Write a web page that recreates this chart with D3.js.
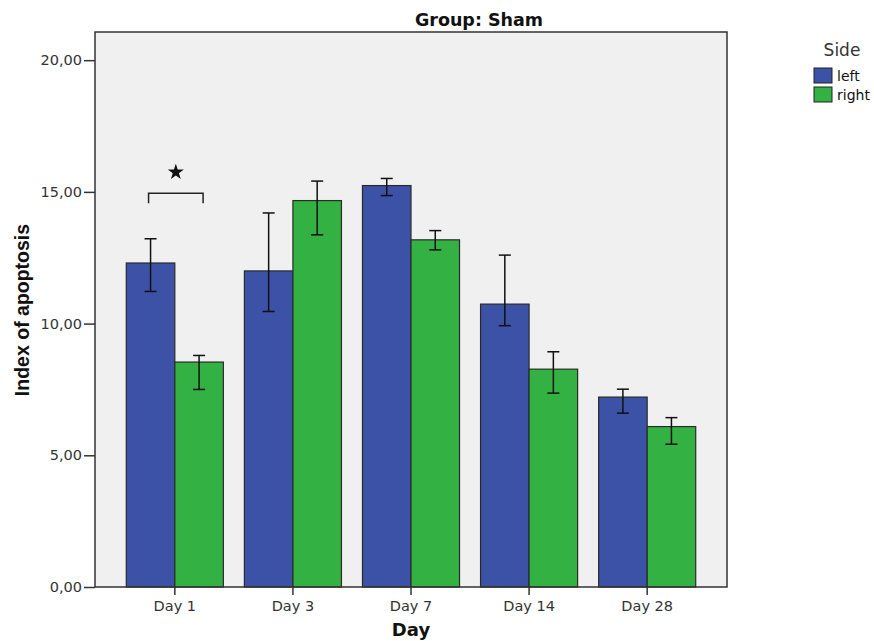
<!DOCTYPE html>
<html>
<head>
<meta charset="utf-8">
<script src="https://cdn.jsdelivr.net/npm/d3@7"></script>
<style>
  body { margin: 0; background: #fff; }
</style>
</head>
<body>
<script>
// data
var days = ["Day 1", "Day 3", "Day 7", "Day 14", "Day 28"];
var sides = ["left", "right"];
var leftMean  = [12.30, 12.00, 15.24, 10.74, 7.21];
var leftLow   = [11.22, 10.46, 14.86,  9.92, 6.60];
var leftHigh  = [13.22, 14.20, 15.51, 12.60, 7.51];
var rightMean = [ 8.54, 14.67, 13.18,  8.27, 6.09];
var rightLow  = [ 7.50, 13.37, 12.80,  7.36, 5.42];
var rightHigh = [ 8.79, 15.41, 13.53,  8.93, 6.43];
var yTicks = [0, 5, 10, 15, 20];

var colors = {left: "#3c52a7", right: "#33b142"};
var font = "'DejaVu Sans', Verdana, sans-serif";

var outerWidth = 874, outerHeight = 641;
var margin = {top: 32, right: 147, bottom: 54, left: 95},
    innerWidth = outerWidth - margin.left - margin.right,
    innerHeight = outerHeight - margin.top - margin.bottom;

var rows = [];
days.forEach(function(d, i) {
    rows.push({day: d, side: "left", mean: leftMean[i], lo: leftLow[i], hi: leftHigh[i]});
    rows.push({day: d, side: "right", mean: rightMean[i], lo: rightLow[i], hi: rightHigh[i]});
});

var svg = d3.select("body").append("svg")
    .attr("width", outerWidth)
    .attr("height", outerHeight)
    .attr("font-family", font);

var plot = svg.append("g")
    .attr("transform", "translate(" + margin.left + "," + margin.top + ")");

var xScale = d3.scaleBand().domain(days).range([0, innerWidth])
    .paddingInner(0.178).paddingOuter(0.265);
var xSub = d3.scaleBand().domain(sides).range([0, xScale.bandwidth()]);
var yScale = d3.scaleLinear().domain([0, 21.07]).range([innerHeight, 0]);

// plot background
plot.append("rect")
    .attr("width", innerWidth)
    .attr("height", innerHeight)
    .attr("fill", "#f0f0f0");

// bars
plot.append("g").selectAll("rect")
    .data(rows)
    .join("rect")
    .attr("x", function(d) { return xScale(d.day) + xSub(d.side); })
    .attr("y", function(d) { return yScale(d.mean); })
    .attr("width", xSub.bandwidth())
    .attr("height", function(d) { return innerHeight - yScale(d.mean); })
    .attr("fill", function(d) { return colors[d.side]; })
    .attr("stroke", "#2a2a2a")
    .attr("stroke-width", 1.2);

// error bars
var errs = plot.append("g").attr("stroke", "#111").attr("stroke-width", 1.5);
rows.forEach(function(d) {
    var cx = xScale(d.day) + xSub(d.side) + xSub.bandwidth() / 2;
    errs.append("line").attr("x1", cx).attr("x2", cx)
        .attr("y1", yScale(d.lo)).attr("y2", yScale(d.hi));
    [d.lo, d.hi].forEach(function(v) {
        errs.append("line").attr("x1", cx - 6).attr("x2", cx + 6)
            .attr("y1", yScale(v)).attr("y2", yScale(v));
    });
});

// significance bracket on Day 1
var bx1 = xScale("Day 1") + xSub("left") + xSub.bandwidth() / 2 - 2,
    bx2 = xScale("Day 1") + xSub("right") + xSub.bandwidth() / 2 + 4,
    by = yScale(14.95);
plot.append("path")
    .attr("d", "M" + bx1 + "," + (by + 10) + "V" + by + "H" + bx2 + "V" + (by + 10))
    .attr("fill", "none")
    .attr("stroke", "#222")
    .attr("stroke-width", 1.5);
plot.append("path")
    .attr("d", d3.symbol().type(d3.symbolStar).size(80)())
    .attr("transform", "translate(" + (bx1 + bx2) / 2 + "," + (by - 21) + ")")
    .attr("fill", "#111");

// frame
plot.append("rect")
    .attr("width", innerWidth)
    .attr("height", innerHeight)
    .attr("fill", "none")
    .attr("stroke", "#333")
    .attr("stroke-width", 1.5);

// y axis
var yAxis = d3.axisLeft(yScale).tickValues(yTicks).tickSize(11).tickPadding(2)
    .tickFormat(function(d) { return d3.format(".2f")(d).replace(".", ","); });
var yg = plot.append("g").call(yAxis)
    .attr("font-family", font)
    .attr("font-size", 14.5);
yg.select(".domain").remove();
yg.selectAll(".tick line").attr("stroke", "#333").attr("stroke-width", 1.5);
yg.selectAll(".tick text").attr("fill", "#333");

svg.append("text")
    .attr("transform", "translate(29,310) rotate(-90)")
    .text("Index of apoptosis")
    .attr("font-family", "'Liberation Sans', Arial, sans-serif")
    .attr("font-size", 19.5)
    .attr("font-weight", "bold")
    .attr("fill", "#111")
    .attr("text-anchor", "middle");

// x axis
var xAxis = d3.axisBottom(xScale).tickSize(8).tickPadding(6);
var xg = plot.append("g")
    .attr("transform", "translate(0," + innerHeight + ")")
    .call(xAxis)
    .attr("font-family", font)
    .attr("font-size", 14.5);
xg.select(".domain").remove();
xg.selectAll(".tick line").attr("stroke", "#333").attr("stroke-width", 1.5);
xg.selectAll(".tick text").attr("fill", "#333");

svg.append("text")
    .attr("x", margin.left + innerWidth / 2)
    .attr("y", 636)
    .text("Day")
    .attr("font-size", 18)
    .attr("font-weight", "bold")
    .attr("fill", "#111")
    .attr("text-anchor", "middle");

// title
svg.append("text")
    .text("Group: Sham")
    .attr("x", 479)
    .attr("y", 26)
    .attr("text-anchor", "middle")
    .attr("font-size", 17.5)
    .attr("font-weight", "bold")
    .attr("fill", "#111");

// legend
var legend = svg.append("g");
legend.append("text")
    .text("Side")
    .attr("x", 842)
    .attr("y", 56)
    .attr("text-anchor", "middle")
    .attr("font-size", 17)
    .attr("fill", "#333");
sides.forEach(function(s, i) {
    legend.append("rect")
        .attr("x", 814).attr("y", 68 + i * 19)
        .attr("width", 18).attr("height", 15)
        .attr("fill", colors[s])
        .attr("stroke", "#222").attr("stroke-width", 1);
    legend.append("text")
        .text(s)
        .attr("x", 837).attr("y", 81 + i * 18.5)
        .attr("font-size", 14)
        .attr("fill", "#111");
});
</script>
</body>
</html>
